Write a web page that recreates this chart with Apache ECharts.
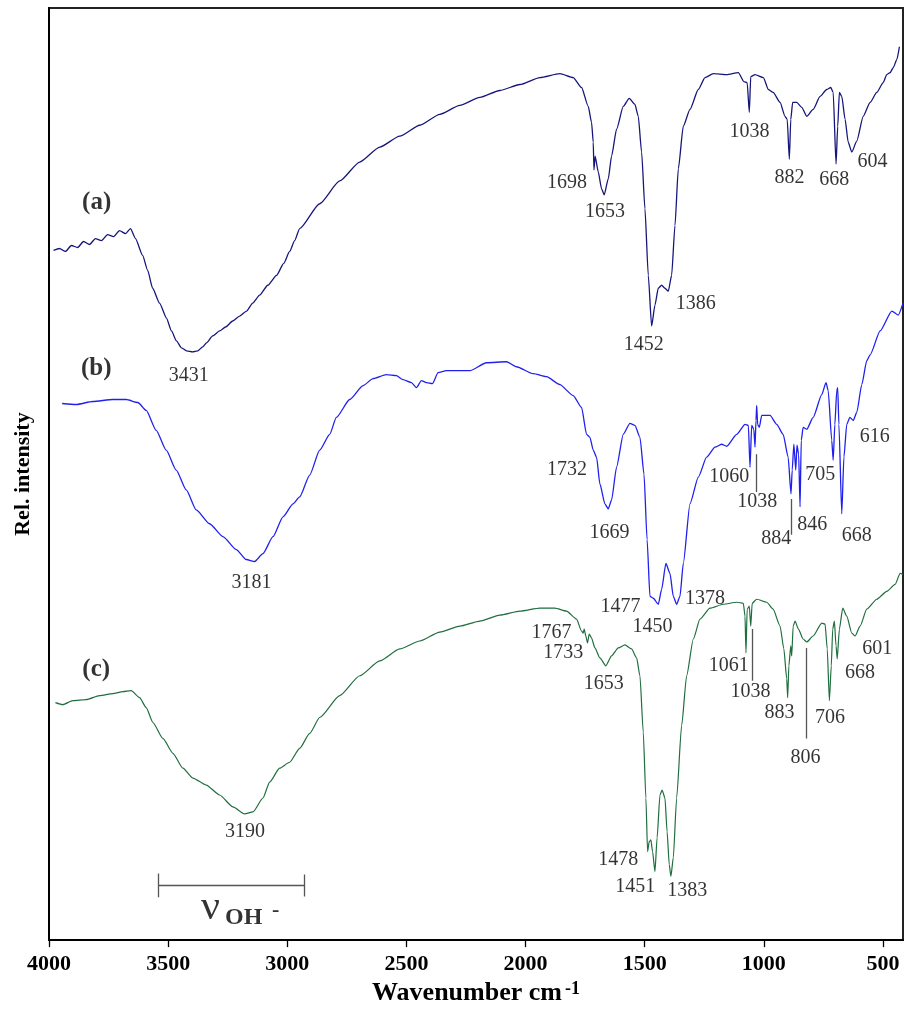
<!DOCTYPE html>
<html>
<head>
<meta charset="utf-8">
<script src="https://cdn.jsdelivr.net/npm/echarts@6/dist/echarts.min.js"></script>
<style>
  html, body { margin: 0; padding: 0; background: #fff; }
  #chart { width: 904px; height: 1011px; }
</style>
</head>
<body>
<div id="chart"></div>
<script>
// wavenumber (cm-1) / relative intensity
const wnA = [3981,3956,3931,3906,3880,3855,3830,3805,3780,3754,3729,3704,3679,3658,3637,3607,3586,3565,3536,3507,3486,3465,3444,3423,3397,3376,3355,3339,3313,3284,3259,3229,3200,3171,3145,3116,3082,3045,3015,2990,2969,2948,2864,2780,2696,2612,2528,2444,2360,2276,2192,2108,2024,1940,1856,1800,1765,1737,1723,1716,1713,1708,1695,1681,1670,1653,1639,1618,1590,1565,1541,1527,1513,1499,1485,1471,1457,1443,1429,1415,1401,1387,1373,1359,1338,1310,1275,1247,1212,1156,1107,1084,1070,1061,1055,1037,1002,981,961,932,911,902,893,887,879,862,841,820,793,764,736,719,709,697,690,683,673,659,646,631,610,583,554,526,499,484,470,457,442,431];
const intA = [694,696,693,699,697,703,700,706,704,710,708,714,711,716,706,689,674,656,641,626,613,603,596,593,592,593,597,601,608,613,617,623,628,633,641,649,659,669,681,693,704,716,741,764,783,798,809,820,831,840,848,855,861,868,872,868,858,839,823,803,775,789,773,756,750,766,789,816,839,847,841,829,793,736,669,618,639,656,659,656,653,669,719,776,819,836,856,868,872,871,873,864,863,833,869,871,868,856,853,843,829,826,786,826,843,843,838,829,836,849,856,858,853,781,819,853,849,826,803,793,804,829,843,853,863,871,873,878,886,899];

const wnB = [3945,3886,3816,3732,3676,3627,3592,3550,3508,3466,3424,3382,3326,3270,3214,3172,3137,3102,3060,3018,2976,2948,2906,2864,2822,2794,2738,2682,2640,2584,2542,2514,2479,2458,2437,2416,2391,2367,2332,2234,2164,2080,2038,1968,1912,1856,1800,1765,1744,1730,1716,1702,1688,1667,1653,1639,1618,1590,1562,1541,1520,1503,1490,1478,1464,1443,1429,1411,1394,1380,1366,1352,1338,1310,1275,1240,1205,1177,1156,1114,1079,1065,1058,1051,1042,1037,1033,1030,1026,1019,1009,974,946,919,898,886,881,874,866,861,854,848,843,835,820,793,757,739,730,715,709,702,694,690,685,673,664,652,639,625,610,589,568,554,512,463,436,416];
const intB = [540,539,542,544,544,541,533,513,493,473,453,433,419,406,393,383,381,389,406,426,439,446,468,493,509,526,544,558,565,569,568,564,561,556,563,561,560,571,573,573,581,582,577,570,567,559,548,536,509,506,493,486,459,439,434,443,476,509,520,518,506,469,403,346,344,338,353,379,369,346,338,346,379,439,466,486,496,499,497,509,519,518,476,518,514,496,523,538,519,516,528,528,519,509,486,449,473,499,473,498,489,436,503,516,514,526,549,561,553,503,483,519,553,556,519,429,486,519,526,523,531,559,583,589,613,633,629,641];

const wnC = [3973,3942,3900,3844,3788,3732,3690,3655,3620,3592,3564,3522,3480,3438,3396,3340,3284,3228,3179,3144,3102,3074,3032,2990,2948,2906,2864,2780,2696,2612,2528,2444,2360,2276,2192,2108,2024,1940,1877,1828,1786,1765,1758,1754,1747,1740,1733,1723,1709,1688,1663,1639,1611,1583,1555,1534,1520,1506,1495,1488,1481,1474,1467,1457,1448,1436,1427,1415,1406,1397,1390,1380,1366,1345,1324,1296,1268,1226,1170,1114,1086,1079,1075,1070,1061,1055,1049,1030,988,961,932,916,904,900,895,887,883,877,869,855,835,820,793,757,743,734,725,717,711,704,697,692,683,669,652,631,617,596,568,526,484,449,428,416];
const intC = [239,237,241,242,246,248,250,251,244,234,219,203,188,173,163,156,146,134,127,129,143,159,173,179,193,208,224,246,266,281,293,301,310,316,321,327,331,334,334,331,323,311,309,313,306,299,308,304,294,284,276,286,294,297,293,284,266,209,143,89,99,101,89,69,103,146,151,143,109,76,64,83,143,216,266,303,323,334,338,340,339,326,289,333,336,316,339,343,340,333,316,293,263,244,276,296,286,316,321,313,303,300,306,319,318,293,241,276,313,321,296,283,313,334,326,309,306,316,333,343,351,358,369,368];

const peakText = ['1698','1653','1452','1386','1038','882','668','604','3431',
  '3181','1732','1669','1477','1450','1378','1060','1038','884','846','705','668','616',
  '1767','1733','1653','1478','1451','1383','1061','1038','883','806','706','668','601','3190'];
const peakWn = [1826,1667,1504,1286,1060,892,705,544,3413,
  3150,1826,1648,1602,1467,1247,1145,1028,948,797,763,610,535,
  1891,1842,1672,1611,1540,1321,1147,1056,934,825,722,596,524,3177];
const peakInt = [762,733,599,640,813,767,765,783,568,
  360,473,410,335,315,344,466,441,404,418,468,407,507,
  309,289,258,81,54,50,276,250,229,184,224,269,293,109];

const tagText = ['(a)','(b)','(c)'];
const tagWn = [3800,3802,3802];
const tagInt = [742,575,272];

// leader lines under some peak numbers
const leaderWn = [1033,887,1047,824];
const leaderTop = [489,444,313,294];
const leaderBottom = [451,408,261,203];

// nu(OH-) range bracket
const bracketFrom = 3540;
const bracketTo = 2927;
const bracketInt = 55;
const bracketCap = 12;

const xTicks = [500,1000,1500,2000,2500,3000,3500,4000];

const serif = '"Liberation Serif", "Times New Roman", serif';
const pairs = (xs, ys) => xs.map((x, i) => [x, ys[i]]);

const leaderLines = leaderWn.map((w, i) => ({ coords: [[w, leaderTop[i]], [w, leaderBottom[i]]] }));
const bracketLines = [
  { coords: [[bracketFrom, bracketInt], [bracketTo, bracketInt]] },
  { coords: [[bracketFrom, bracketInt + bracketCap], [bracketFrom, bracketInt - bracketCap]] },
  { coords: [[bracketTo, bracketInt + bracketCap - 1], [bracketTo, bracketInt - bracketCap + 1]] },
];

const chart = echarts.init(document.getElementById('chart'));

// spectrum line style shared by the three traces
const spectrum = (name, xs, ys, color, width) => ({
  name,
  type: 'line',
  data: pairs(xs, ys),
  showSymbol: false,
  silent: true,
  smooth: 0.2,
  smoothMonotone: 'x',
  lineStyle: { color, width },
});

const option = {
  animation: false,
  backgroundColor: '#fff',
  grid: {
    left: 49,
    right: 1,
    top: 8,
    bottom: 65,
    show: true,
    borderColor: '#222',
    borderWidth: 2,
  },
  xAxis: {
    type: 'value',
    inverse: true,
    min: 416,
    max: 4000,
    axisLine: { show: true, lineStyle: { color: '#000', width: 2 } },
    axisTick: { show: true, length: 7, customValues: xTicks, lineStyle: { color: '#000', width: 1.3 } },
    axisLabel: {
      customValues: xTicks,
      formatter: (v) => String(v),
      margin: 13,
      color: '#000',
      fontFamily: serif,
      fontWeight: 'bold',
      fontSize: 22,
    },
    splitLine: { show: false },
    name: '{t|Wavenumber cm}{s|-1}',
    nameLocation: 'middle',
    nameGap: 36,
    nameTextStyle: {
      rich: {
        t: { fontFamily: serif, fontWeight: 'bold', fontSize: 26, color: '#000', verticalAlign: 'bottom' },
        s: { fontFamily: serif, fontWeight: 'bold', fontSize: 18, color: '#000', verticalAlign: 'top', padding: [0, 0, 0, 3] },
      },
    },
  },
  yAxis: {
    type: 'value',
    min: 0,
    max: 938,
    axisLine: { show: true, lineStyle: { color: '#000', width: 2 } },
    axisTick: { show: false },
    axisLabel: { show: false },
    splitLine: { show: false },
    name: 'Rel. intensity',
    nameLocation: 'middle',
    nameGap: 15,
    nameRotate: 90,
    nameTextStyle: { fontFamily: serif, fontWeight: 'bold', fontSize: 22, color: '#000' },
  },
  series: [
    spectrum('a', wnA, intA, '#16167a', 1.3),
    spectrum('b', wnB, intB, '#2020ee', 1.3),
    spectrum('c', wnC, intC, '#1f6e3e', 1.2),
    {
      type: 'lines',
      coordinateSystem: 'cartesian2d',
      silent: true,
      lineStyle: { color: '#555', width: 1.3, opacity: 1 },
      data: leaderLines.concat(bracketLines),
    },
    {
      type: 'scatter',
      symbolSize: 0,
      silent: true,
      data: peakWn.map((w, i) => [w, peakInt[i], peakText[i]]),
      label: {
        show: true,
        position: 'inside',
        formatter: (p) => p.value[2],
        fontFamily: serif,
        fontSize: 20,
        color: '#000',
      },
    },
    {
      type: 'scatter',
      symbolSize: 0,
      silent: true,
      data: tagWn.map((w, i) => [w, tagInt[i], tagText[i]]),
      label: {
        show: true,
        position: 'inside',
        formatter: (p) => p.value[2],
        fontFamily: serif,
        fontWeight: 'bold',
        fontSize: 25,
        color: '#000',
      },
    },
    {
      // ν OH ⁻ annotation under the bracket
      type: 'scatter',
      symbolSize: 0,
      silent: true,
      data: [
        { value: [3322, 32], label: { formatter: 'ν', fontSize: 42, fontWeight: 'normal' } },
        { value: [3183, 22], label: { formatter: 'OH', fontSize: 24, fontWeight: 'bold' } },
        { value: [3049, 30], label: { formatter: '-', fontSize: 22, fontWeight: 'bold' } },
      ],
      label: {
        show: true,
        position: 'inside',
        fontFamily: serif,
        color: '#000',
      },
    },
  ],
};

chart.setOption(option);
</script>
</body>
</html>
